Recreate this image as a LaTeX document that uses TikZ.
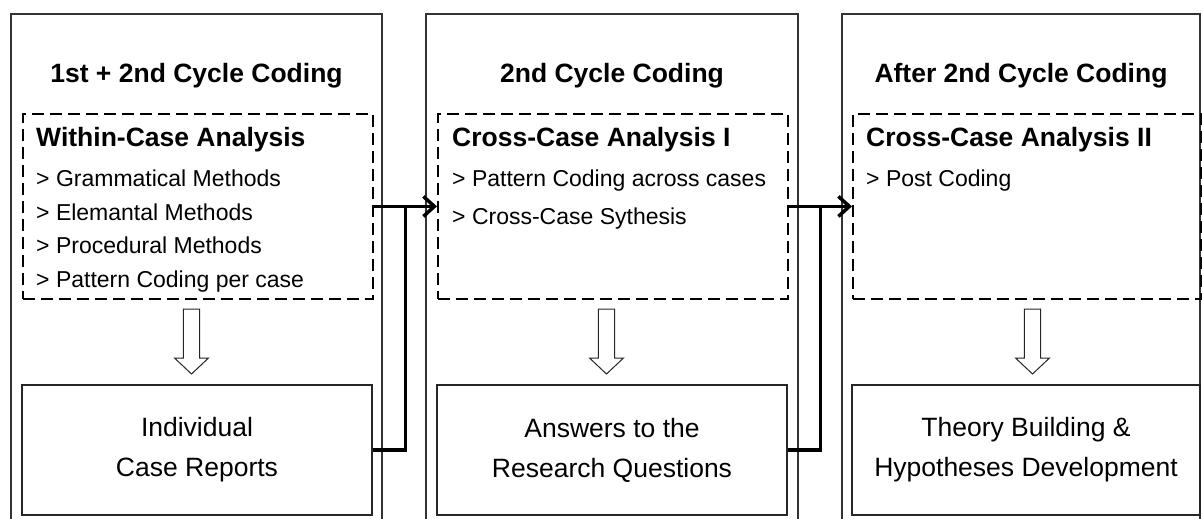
\documentclass[tikz,border=0pt]{standalone}
\usepackage{fontspec}
\setmainfont{Liberation Sans}
\usetikzlibrary{arrows.meta,calc}
\begin{document}
\begin{tikzpicture}[x=1pt,y=-1pt,
  column/.style={draw=black!80, line width=1.6pt},
  stagebox/.style={draw=black, line width=1.8pt, dash pattern=on 12pt off 6pt,
    rectangle, inner sep=0pt, anchor=north west, minimum height=185pt},
  resultbox/.style={draw=black!85, line width=1.6pt, rectangle, inner sep=0pt,
    minimum height=130pt, align=center,
    font=\fontsize{26.5}{40}\selectfont},
  coltitle/.style={anchor=base, inner sep=0pt, font=\fontsize{26.5}{30}\selectfont\bfseries},
  boxhead/.style={anchor=base west, inner sep=0pt, font=\fontsize{26.5}{30}\selectfont\bfseries},
  item/.style={anchor=base west, inner sep=0pt, font=\fontsize{23}{27}\selectfont},
  link/.style={line width=3.5pt, line join=miter},
  linktip/.style={-{Straight Barb[length=11pt,width=20pt,line width=3.5pt]}},
  hollowdown/.pic={\draw[draw=black!85, line width=1pt, fill=white]
     (-8.2,0) -- (-8.2,49) -- (-17,49) -- (0,65) -- (17,49) -- (8.2,49) -- (8.2,0) -- cycle;}
]
\useasboundingbox (0,0) rectangle (1202,519);

% three stage columns, open at the bottom
\draw[column] (11,520) -- (11,14) -- (382,14) -- (382,520);
\draw[column] (426,520) -- (426,14) -- (798,14) -- (798,520);
\draw[column] (842,520) -- (842,14) -- (1200,14) -- (1200,520);

% column titles
\node[coltitle] (t1) at (196.5,82) {1st + 2nd Cycle Coding};
\node[coltitle] (t2) at (612,82) {2nd Cycle Coding};
\node[coltitle] (t3) at (1021,82) {After 2nd Cycle Coding};

% analysis boxes
\node[stagebox, minimum width=350pt] (d1) at (22,113) {};
\node[stagebox, minimum width=350pt] (d2) at (437,113) {};
\node[stagebox, minimum width=348pt] (d3) at (852,113) {};

\node[boxhead] (h1) at (36,146) {Within-Case Analysis};
\node[item] (i11) at (36,186) {> Grammatical Methods};
\node[item] (i12) at (36,220) {> Elemantal Methods};
\node[item] (i13) at (36,253) {> Procedural Methods};
\node[item] (i14) at (36,287) {> Pattern Coding per case};

\node[boxhead] (h2) at (452,146) {Cross-Case Analysis I};
\node[item] (i21) at (452,186) {> Pattern Coding across cases};
\node[item] (i22) at (452,224) {> Cross-Case Sythesis};

\node[boxhead] (h3) at (866,146) {Cross-Case Analysis II};
\node[item] (i31) at (866,186) {> Post Coding};

% result boxes
\node[resultbox, minimum width=350pt] (b1) at (197,450) {Individual\\Case Reports};
\node[resultbox, minimum width=350pt] (b2) at (612,450) {Answers to the\\Research Questions};
\node[resultbox, minimum width=348pt] (b3) at (1026,450) {Theory Building \&\\Hypotheses Development};

% hollow arrows from analysis to result
\pic at (191.5,309) {hollowdown};
\pic at (606.5,309) {hollowdown};
\pic at (1032.5,309) {hollowdown};

% links between stages
\coordinate (j1) at ($(d1.east)!0.5!(d2.west)$);
\coordinate (j2) at ($(d2.east)!0.5!(d3.west)$);
\draw[link] (b1.east) -| (j1);
\draw[link, linktip] (d1.east) -- (d2.west);
\draw[link] (b2.east) -| (j2);
\draw[link, linktip] (d2.east) -- (d3.west);
\end{tikzpicture}
\end{document}
